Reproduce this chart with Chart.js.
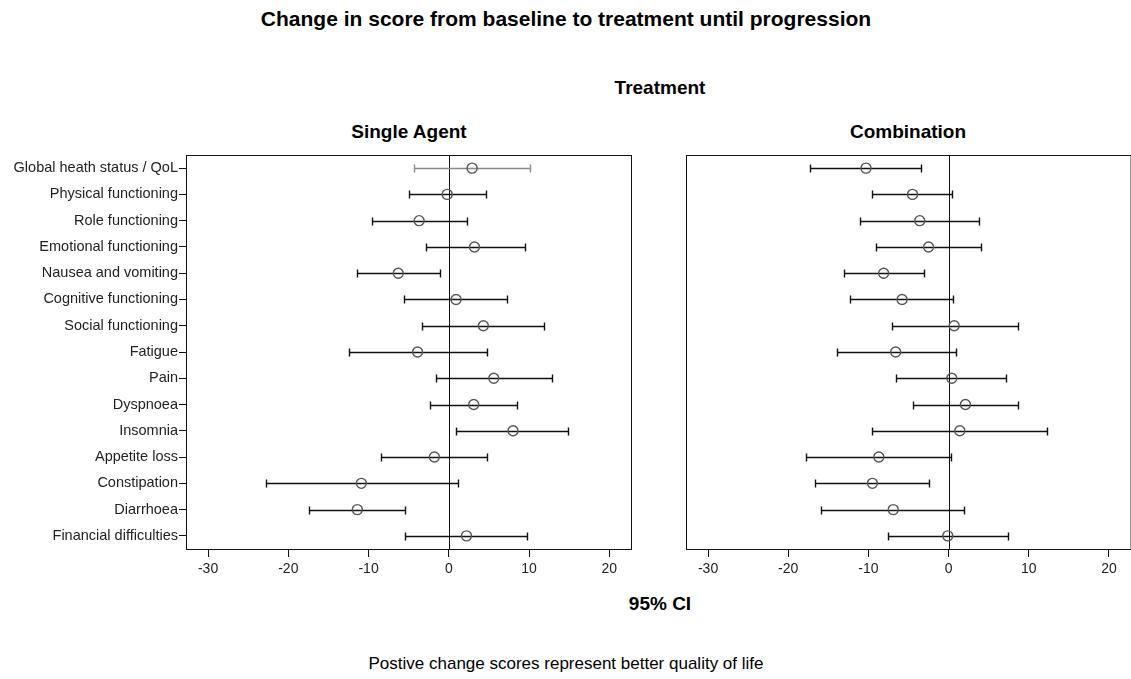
<!DOCTYPE html>
<html>
<head>
<meta charset="utf-8">
<script src="https://cdn.jsdelivr.net/npm/chart.js@4.4.0/dist/chart.umd.min.js"></script>
<style>
    html, body { margin: 0; padding: 0; background: #fff; overflow: hidden; }
    body { width: 1131px; height: 679px; position: relative; font-family: "Liberation Sans", Arial, sans-serif; color: #000; }
    .txt { position: absolute; white-space: nowrap; transform: translate(-50%, -50%); }
    .b { font-weight: bold; }
    canvas { position: absolute; }
</style>
</head>
<body>
<div class="txt b" style="left:566px; top:19px; font-size:21px;">Change in score from baseline to treatment until progression</div>
<div class="txt b" style="left:660px; top:88px; font-size:19px;">Treatment</div>
<div class="txt b" style="left:409px; top:132px; font-size:19px;">Single Agent</div>
<div class="txt b" style="left:908px; top:132px; font-size:19px;">Combination</div>
<div class="txt b" style="left:660px; top:604px; font-size:19px;">95% CI</div>
<div class="txt" style="left:566px; top:664px; font-size:17px;">Postive change scores represent better quality of life</div>

<div style="position:absolute; left:0; top:140px; width:640px; height:450px;"><canvas id="leftChart"></canvas></div>
<div style="position:absolute; left:640px; top:140px; width:497px; height:450px;"><canvas id="rightChart"></canvas></div>

<script>
    /* ===== datos ===== */
    const categories = [
        "Global heath status / QoL",
        "Physical functioning",
        "Role functioning",
        "Emotional functioning",
        "Nausea and vomiting",
        "Cognitive functioning",
        "Social functioning",
        "Fatigue",
        "Pain",
        "Dyspnoea",
        "Insomnia",
        "Appetite loss",
        "Constipation",
        "Diarrhoea",
        "Financial difficulties"
    ];

    const xTicks = [-30, -20, -10, 0, 10, 20];

    // Single Agent
    const singleMean = [2.9, -0.2, -3.7, 3.2, -6.3, 0.9, 4.3, -3.9, 5.6, 3.1, 8.0, -1.8, -10.9, -11.4, 2.2];
    const singleLow  = [-4.3, -5.0, -9.6, -2.9, -11.4, -5.6, -3.3, -12.4, -1.6, -2.3, 0.9, -8.5, -22.8, -17.4, -5.4];
    const singleHigh = [10.1, 4.6, 2.3, 9.5, -1.1, 7.3, 11.9, 4.8, 12.9, 8.5, 14.9, 4.7, 1.2, -5.4, 9.8];

    // Combination
    const comboMean = [-10.3, -4.5, -3.6, -2.5, -8.1, -5.8, 0.7, -6.6, 0.4, 2.1, 1.4, -8.7, -9.5, -6.9, -0.1];
    const comboLow  = [-17.3, -9.5, -11.0, -9.1, -13.1, -12.3, -7.1, -13.9, -6.5, -4.5, -9.6, -17.8, -16.7, -15.9, -7.6];
    const comboHigh = [-3.4, 0.45, 3.8, 4.0, -3.1, 0.6, 8.7, 0.9, 7.2, 8.7, 12.3, 0.3, -2.4, 1.9, 7.4];

    // la primera fila del panel izquierdo aparece en gris
    const singleColors = categories.map((c, i) => (i === 0 ? "#8a8a8a" : "#111"));
    const comboColors = categories.map(() => "#111");

    const X_MIN = -32.75;
    const X_MAX = 22.7;

    /* ===== plugin: caja, linea de cero y barras de error ===== */
    const ciPlugin = {
        id: "ciPlugin",
        beforeDatasetsDraw(chart) {
            const { ctx, chartArea, scales } = chart;
            const x = scales.x;
            ctx.save();
            ctx.strokeStyle = "#111";
            ctx.lineWidth = 1;
            // caja
            ctx.strokeRect(chartArea.left + 0.5, chartArea.top + 0.5,
                chartArea.right - chartArea.left, chartArea.bottom - chartArea.top);
            // linea de referencia en cero
            const zx = Math.round(x.getPixelForValue(0)) + 0.5;
            ctx.beginPath();
            ctx.moveTo(zx, chartArea.top);
            ctx.lineTo(zx, chartArea.bottom);
            ctx.stroke();

            // intervalos de confianza
            const opts = chart.options.plugins.ciPlugin;
            const y = scales.y;
            opts.low.forEach((lo, i) => {
                const hi = opts.high[i];
                const py = Math.round(y.getPixelForValue(i)) + 0.5;
                const x1 = Math.round(x.getPixelForValue(lo)) + 0.5;
                const x2 = Math.round(x.getPixelForValue(hi)) + 0.5;
                ctx.strokeStyle = opts.colors[i];
                ctx.lineWidth = 1.4;
                ctx.beginPath();
                ctx.moveTo(x1, py);
                ctx.lineTo(x2, py);
                ctx.moveTo(x1, py - 4);
                ctx.lineTo(x1, py + 4);
                ctx.moveTo(x2, py - 4);
                ctx.lineTo(x2, py + 4);
                ctx.stroke();
            });
            ctx.restore();
        }
    };

    function buildChart(canvasId, mean, low, high, colors, showLabels, yWidth) {
        const ctx = document.getElementById(canvasId).getContext("2d");
        return new Chart(ctx, {
            type: "scatter",
            data: {
                datasets: [{
                    data: mean.map((m, i) => ({ x: m, y: i })),
                    pointStyle: "circle",
                    pointRadius: 5,
                    pointHoverRadius: 5,
                    pointBackgroundColor: "rgba(255,255,255,0)",
                    pointBorderColor: "#555",
                    pointBorderWidth: 1.4
                }]
            },
            options: {
                responsive: true,
                maintainAspectRatio: false,
                animation: false,
                events: [],
                layout: { padding: { top: 15, right: showLabels ? 9 : 0, left: 0, bottom: 0 } },
                plugins: {
                    legend: { display: false },
                    tooltip: { enabled: false },
                    ciPlugin: { low: low, high: high, colors: colors }
                },
                scales: {
                    x: {
                        type: "linear",
                        min: X_MIN,
                        max: X_MAX,
                        afterBuildTicks(scale) {
                            scale.ticks = xTicks.map((v) => ({ value: v }));
                        },
                        afterFit(scale) { scale.height = 41; },
                        border: { display: false },
                        grid: {
                            drawOnChartArea: false,
                            drawTicks: true,
                            tickLength: 8,
                            color: "#111"
                        },
                        ticks: {
                            color: "#222",
                            padding: 4,
                            font: { family: "Liberation Sans", size: 14 }
                        }
                    },
                    y: {
                        type: "linear",
                        reverse: true,
                        min: -0.5,
                        max: categories.length - 0.5,
                        afterBuildTicks(scale) {
                            scale.ticks = categories.map((c, i) => ({ value: i }));
                        },
                        afterFit(scale) { scale.width = yWidth; },
                        border: { display: false },
                        grid: {
                            drawOnChartArea: false,
                            drawTicks: showLabels,
                            tickLength: 7,
                            color: "#111"
                        },
                        ticks: {
                            display: showLabels,
                            color: "#222",
                            padding: 1,
                            font: { family: "Liberation Sans", size: 14.5 },
                            callback: (v) => categories[v]
                        }
                    }
                }
            },
            plugins: [ciPlugin]
        });
    }

    buildChart("leftChart", singleMean, singleLow, singleHigh, singleColors, true, 186);
    buildChart("rightChart", comboMean, comboLow, comboHigh, comboColors, false, 46);
</script>
</body>
</html>
